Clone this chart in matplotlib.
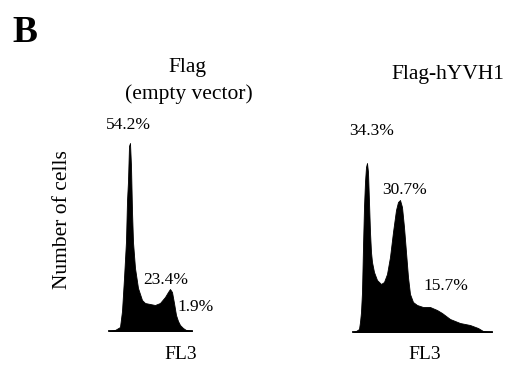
"""Flow cytometry histograms (FL3) for Flag vs Flag-hYVH1."""

import matplotlib

matplotlib.use("Agg")
import matplotlib.pyplot as plt  # noqa: E402

W, H = 516, 373

# FL3 channel vs number of cells
ctrl_fl3 = [0, 6, 11, 13, 15, 17, 18, 19, 20, 21, 22, 23, 24, 26, 29, 33,
            36, 41, 46, 51, 56, 59, 61, 63, 65, 67, 69, 71, 74, 77, 83]
ctrl_cells = [0, 1, 4, 20, 53, 90, 130, 150, 185, 188, 165, 120, 89, 63, 43,
              31, 28, 27, 26, 28, 34, 39, 42, 39, 28, 16, 10, 6, 3, 1, 0]

yvh1_fl3 = [0, 3, 6, 7, 8, 9, 10, 11, 12, 13, 14, 15, 16, 17, 18, 19, 21,
            24, 28, 31, 34, 37, 40, 43, 45, 47, 49, 51, 53, 55, 57, 60, 64,
            70, 77, 84, 89, 97, 107, 117, 125, 130, 139]
yvh1_cells = [0, 1, 3, 10, 20, 40, 85, 125, 150, 165, 169, 160, 130, 100,
              80, 70, 60, 52, 48, 50, 58, 75, 100, 122, 130, 132, 125, 105,
              80, 55, 38, 30, 27, 25, 25, 22, 19, 13, 9, 7, 4, 1, 0]

ctrl_pcts = ["54.2%", "23.4%", "1.9%"]
yvh1_pcts = ["34.3%", "30.7%", "15.7%"]

SERIF = ["Liberation Serif", "DejaVu Serif"]


def px(x, y):
    """pixel position (from top-left) -> figure fraction"""
    return x / W, 1 - y / H


def histo(ax, x, y, xmax):
    ax.fill_between(x, y, 0, color="black", lw=0.6)
    ax.set_xlim(0, xmax)
    ax.set_ylim(0, 200)
    for side in ("top", "left", "right"):
        ax.spines[side].set_visible(False)
    ax.spines["bottom"].set_linewidth(1.3)
    ax.set_xticks([])
    ax.set_yticks([])
    ax.patch.set_alpha(0)


fig = plt.figure(figsize=(W / 100, H / 100), dpi=100)

ax1 = fig.add_axes([109 / W, 42 / H, 83 / W, 200 / H])
histo(ax1, ctrl_fl3, ctrl_cells, 83)
ax2 = fig.add_axes([353 / W, 41 / H, 139 / W, 200 / H])
histo(ax2, yvh1_fl3, yvh1_cells, 139)


def txt(x, y, s, size, **kw):
    fig.text(*px(x, y), s, fontsize=size, family=SERIF, ha="center",
             va="baseline", **kw)


txt(25, 42, "B", 27, fontweight="bold")
txt(187, 72, "Flag", 15.5)
txt(189, 99, "(empty vector)", 15.5)
txt(448, 79, "Flag-hYVH1", 15.5)

txt(67, 220, "Number of cells", 15.5, rotation=90, rotation_mode="anchor")

for s, (x, y) in zip(ctrl_pcts, [(128, 129), (166, 284), (196, 311)]):
    txt(x, y, s, 12.5)
for s, (x, y) in zip(yvh1_pcts, [(372, 135), (405, 194), (446, 290)]):
    txt(x, y, s, 12.5)

txt(181, 359, "FL3", 14)
txt(425, 359, "FL3", 14)

fig.savefig("out.png", dpi=100)
plt.close(fig)
